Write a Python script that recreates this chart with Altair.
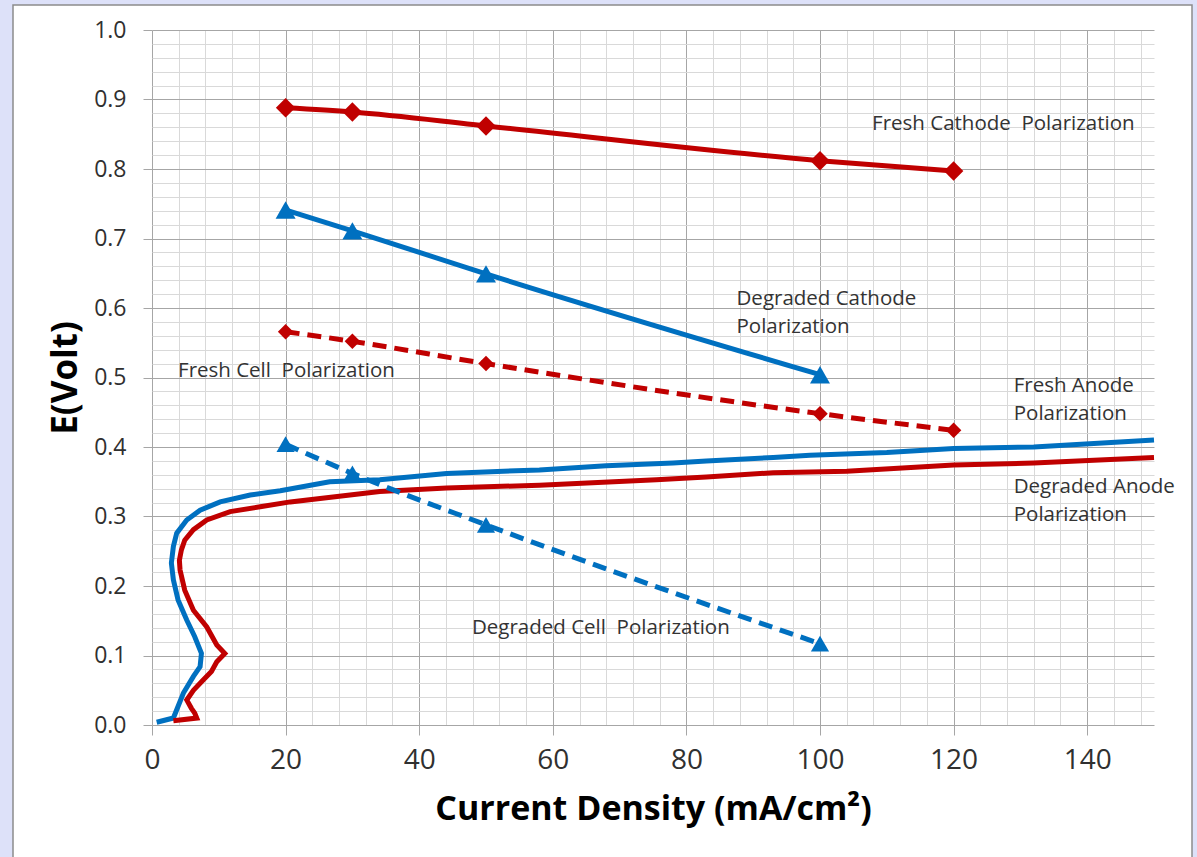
import altair as alt
import pandas as pd

# ---------------- data ----------------
fresh_cathode_x = [20, 30, 50, 100, 120]
fresh_cathode_y = [0.888, 0.882, 0.862, 0.812, 0.797]

deg_cathode_x = [20, 30, 50, 100]
deg_cathode_y = [0.741, 0.711, 0.649, 0.504]

fresh_cell_x = [20, 30, 50, 100, 120]
fresh_cell_y = [0.566, 0.552, 0.520, 0.448, 0.424]

deg_cell_x = [20, 30, 50, 100]
deg_cell_y = [0.404, 0.362, 0.288, 0.117]

blue_anode_x = [0.7, 3.2, 3.7, 4.7, 6.2, 7.2, 7.4, 6.4, 5.2, 3.9, 3.2, 2.9, 3.2, 3.7,
                5.2, 7.2, 10.2, 14.7, 19.2, 26.6, 34.1, 44.1, 58, 68, 78, 83, 93,
                98.5, 110, 120, 132, 150]
blue_anode_y = [0.004, 0.010, 0.022, 0.046, 0.070, 0.084, 0.103, 0.127, 0.151, 0.180,
                0.209, 0.233, 0.257, 0.276, 0.295, 0.309, 0.321, 0.331, 0.337, 0.350,
                0.353, 0.362, 0.367, 0.373, 0.377, 0.380, 0.385, 0.388, 0.392, 0.398,
                0.400, 0.410]

red_anode_x = [3.2, 6.7, 6.4, 5.9, 5.2, 6.2, 7.7, 8.9, 9.7, 10.9, 9.7, 8.2, 6.2, 4.9,
               4.2, 4.1, 4.4, 4.9, 6.2, 8.2, 11.7, 16.2, 20.7, 34.1, 44.1, 58, 75.5,
               83, 93, 98.5, 104, 120, 132, 150]
red_anode_y = [0.006, 0.010, 0.017, 0.024, 0.036, 0.050, 0.065, 0.077, 0.091, 0.103,
               0.115, 0.141, 0.165, 0.194, 0.223, 0.237, 0.252, 0.266, 0.281, 0.295,
               0.307, 0.314, 0.321, 0.336, 0.341, 0.345, 0.353, 0.357, 0.363, 0.364,
               0.365, 0.374, 0.377, 0.385]

NB = "\u00a0"
label_text = [f"Fresh Cathode{NB} Polarization", "Degraded Cathode", "Polarization",
              f"Fresh Cell{NB} Polarization", "Fresh Anode", "Polarization",
              "Degraded Anode", "Polarization", f"Degraded Cell{NB} Polarization"]
label_x = [107.8, 87.5, 87.5, 3.9, 129, 129, 129, 129, 47.9]
label_y = [0.865, 0.613, 0.572, 0.509, 0.488, 0.447, 0.342, 0.302, 0.140]

x_ticks = list(range(0, 150, 4))
y_ticks = [round(i * 0.02, 2) for i in range(51)]

RED = "#c00000"
BLUE = "#0070c0"
FONT = "Open Sans"

W, H = 1002, 695
PAD_L, PAD_T = 152, 30

x_major = "datum.value % 20 === 0"
y_major = "round(datum.value * 50) % 5 === 0"

x_axis = alt.Axis(
    values=x_ticks,
    labelExpr=f"{x_major} ? datum.label : ''",
    grid=True,
    gridColor={"condition": {"test": x_major, "value": "#a6a6a6"}, "value": "#d9d9d9"},
    tickColor={"condition": {"test": x_major, "value": "#a6a6a6"}, "value": "transparent"},
    tickSize=10, domain=False,
    labelFont=FONT, labelFontSize=28, labelColor="#303030", labelPadding=11,
    labelOverlap=False, labelFlush=False,
    title="Current Density (mA/cm²)", titleFont=FONT, titleFontSize=34,
    titleFontWeight="bold", titleColor="black", titleY=94, titleBaseline="alphabetic",
)
y_axis = alt.Axis(
    values=y_ticks,
    labelExpr=f"{y_major} ? format(datum.value, '.1f') : ''",
    grid=True,
    gridColor={"condition": {"test": y_major, "value": "#a6a6a6"}, "value": "#d9d9d9"},
    tickColor={"condition": {"test": y_major, "value": "#a6a6a6"}, "value": "transparent"},
    tickSize=9, domain=False,
    labelFont=FONT, labelFontSize=23, labelColor="#303030", labelPadding=17,
    labelOverlap=False, labelFlush=False,
    title="E(Volt)", titleFont=FONT, titleFontSize=35, titleFontWeight="bold",
    titleColor="black", titleX=-87, titleY=H / 2, titleBaseline="middle", titleAngle=-90,
)

X = alt.X("x:Q", scale=alt.Scale(domain=[0, 150], nice=False, zero=False), axis=x_axis)
Y = alt.Y("y:Q", scale=alt.Scale(domain=[0, 1], nice=False, zero=False), axis=y_axis)


def frame(xs, ys):
    return pd.DataFrame({"x": xs, "y": ys, "i": list(range(len(xs)))})


def line(xs, ys, color, dash=None, interp="monotone"):
    kw = dict(color=color, strokeWidth=5, interpolate=interp)
    if dash:
        kw["strokeDash"] = dash
    return alt.Chart(frame(xs, ys)).mark_line(**kw).encode(x=X, y=Y, order="i:Q")


def pts(xs, ys, color, shape, size):
    return alt.Chart(frame(xs, ys)).mark_point(
        shape=shape, filled=True, size=size, color=color, opacity=1
    ).encode(x=X, y=Y)


one = alt.Data(values=[{}])
deco = [
    alt.Chart(one).mark_rect(color="#dde1f9").encode(
        x=alt.value(-PAD_L), x2=alt.value(-139), y=alt.value(-PAD_T), y2=alt.value(827)),
    alt.Chart(one).mark_rect(color="#dde1f9").encode(
        x=alt.value(-PAD_L), x2=alt.value(1045), y=alt.value(-PAD_T), y2=alt.value(-25)),
    alt.Chart(one).mark_rect(color="#dde1f9").encode(
        x=alt.value(1040), x2=alt.value(1045), y=alt.value(-PAD_T), y2=alt.value(827)),
    alt.Chart(one).mark_rect(fillOpacity=0, stroke="#8c8c8c", strokeWidth=1.5).encode(
        x=alt.value(-139), x2=alt.value(1040), y=alt.value(-25), y2=alt.value(840)),
]

labels = alt.Chart(pd.DataFrame({"x": label_x, "y": label_y, "t": label_text})).mark_text(
    align="left", baseline="middle", font=FONT, fontSize=20.5, color="#333333"
).encode(x=X, y=Y, text="t:N")

chart = alt.layer(
    *deco,
    line(blue_anode_x, blue_anode_y, BLUE, interp="linear"),
    line(red_anode_x, red_anode_y, RED, interp="linear"),
    line(fresh_cathode_x, fresh_cathode_y, RED),
    pts(fresh_cathode_x, fresh_cathode_y, RED, "diamond", 380),
    line(deg_cathode_x, deg_cathode_y, BLUE),
    pts(deg_cathode_x, deg_cathode_y, BLUE, "triangle-up", 400),
    line(fresh_cell_x, fresh_cell_y, RED, dash=[14, 8]),
    pts(fresh_cell_x, fresh_cell_y, RED, "diamond", 240),
    line(deg_cell_x, deg_cell_y, BLUE, dash=[14, 8]),
    pts(deg_cell_x, deg_cell_y, BLUE, "triangle-up", 330),
    labels,
).properties(
    width=W, height=H,
    autosize=alt.AutoSizeParams(type="none"),
    padding={"left": PAD_L, "top": PAD_T, "right": 1197 - PAD_L - W, "bottom": 857 - PAD_T - H},
).configure(background="white").configure_view(stroke=None)

chart.save("out.html", embed_options={"renderer": "svg", "actions": False})
